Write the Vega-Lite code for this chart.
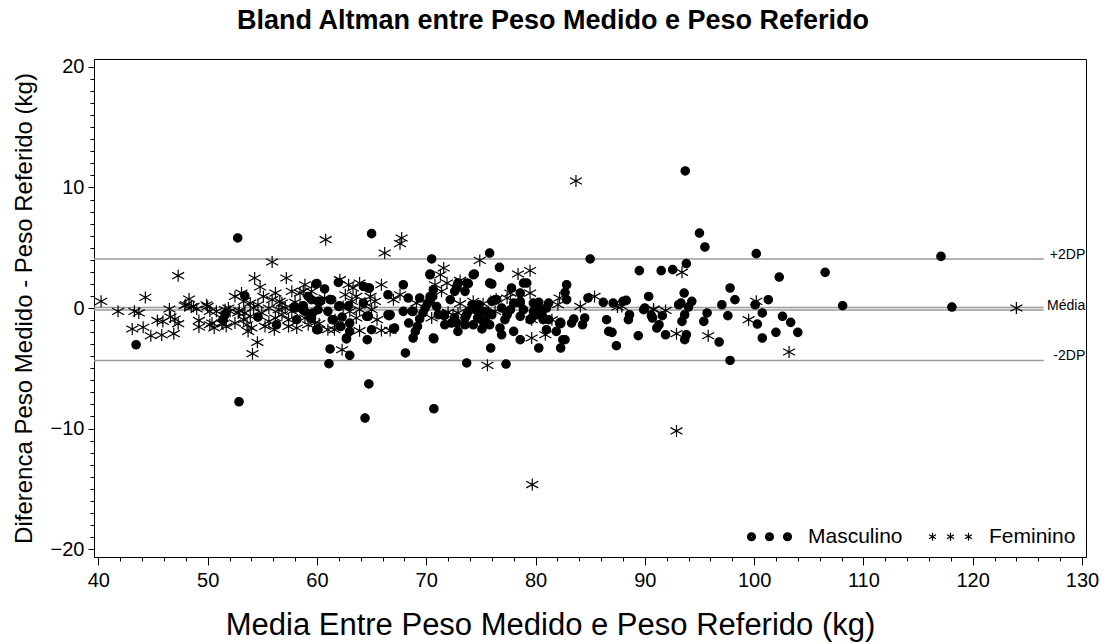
{
"$schema": "https://vega.github.io/schema/vega-lite/v6.json",
"width": 992, "height": 498,
"autosize": {"type": "none"},
"padding": {"left": 94, "top": 59, "right": 20, "bottom": 87},
"background": "white",
"config": {
  "font": "Liberation Sans",
  "view": {"stroke": "black", "strokeWidth": 1},
  "axis": {"domainColor": "black", "tickColor": "black", "labelColor": "black", "titleColor": "black", "grid": false, "labelFlush": false, "labelOverlap": false, "titleFontWeight": "normal", "labelFont": "Liberation Sans", "titleFont": "Liberation Sans"}
},
"title": {"text": "Bland Altman entre Peso Medido e Peso Referido", "fontSize": 27, "fontWeight": "bold", "font": "Liberation Sans", "color": "black", "anchor": "middle", "frame": "group", "dx": -37, "offset": 22},
"datasets": {
"linhas": [
{"linha": "+2DP", "valor": 4.07, "rotulo": "+2DP"},
{"linha": "Zero", "valor": 0.05, "rotulo": ""},
{"linha": "Média", "valor": -0.16, "rotulo": "Média"},
{"linha": "-2DP", "valor": -4.35, "rotulo": "-2DP"}
],
"pontos": [
{"media":43.45,"dif":-3.05,"sexo":"Masculino"},{"media":51.4,"dif":-0.97,"sexo":"Masculino"},{"media":51.6,"dif":-0.56,"sexo":"Masculino"},{"media":52.75,"dif":5.81,"sexo":"Masculino"},{"media":53.4,"dif":1.02,"sexo":"Masculino"},{"media":54.6,"dif":-0.75,"sexo":"Masculino"},{"media":56.3,"dif":-1.39,"sexo":"Masculino"},{"media":58.15,"dif":-0.97,"sexo":"Masculino"},{"media":58.0,"dif":0,"sexo":"Masculino"},{"media":58.9,"dif":-0.28,"sexo":"Masculino"},{"media":59.4,"dif":-0.83,"sexo":"Masculino"},{"media":59.5,"dif":0.69,"sexo":"Masculino"},{"media":59.9,"dif":1.99,"sexo":"Masculino"},{"media":59.98,"dif":-1.8,"sexo":"Masculino"},{"media":60.3,"dif":0.55,"sexo":"Masculino"},{"media":60.7,"dif":1.58,"sexo":"Masculino"},{"media":61.0,"dif":-0.28,"sexo":"Masculino"},{"media":61.35,"dif":0.69,"sexo":"Masculino"},{"media":61.4,"dif":-0.97,"sexo":"Masculino"},{"media":62.1,"dif":-1.53,"sexo":"Masculino"},{"media":62.0,"dif":0.13,"sexo":"Masculino"},{"media":61.96,"dif":2.12,"sexo":"Masculino"},{"media":61.2,"dif":-3.4,"sexo":"Masculino"},{"media":61.1,"dif":-4.62,"sexo":"Masculino"},{"media":62.7,"dif":-2.57,"sexo":"Masculino"},{"media":63.0,"dif":-1.94,"sexo":"Masculino"},{"media":63.0,"dif":-3.93,"sexo":"Masculino"},{"media":62.9,"dif":0.19,"sexo":"Masculino"},{"media":58.7,"dif":-0.14,"sexo":"Masculino"},{"media":59.6,"dif":-0.41,"sexo":"Masculino"},{"media":60.1,"dif":-0.14,"sexo":"Masculino"},{"media":62.3,"dif":-0.75,"sexo":"Masculino"},{"media":63.0,"dif":-1.25,"sexo":"Masculino"},
{"media":57.9,"dif":0.08,"sexo":"Masculino"},{"media":58.75,"dif":0.19,"sexo":"Masculino"},{"media":59.2,"dif":0.96,"sexo":"Masculino"},{"media":59.5,"dif":-0.83,"sexo":"Masculino"},{"media":60.0,"dif":2.02,"sexo":"Masculino"},{"media":60.1,"dif":0.55,"sexo":"Masculino"},{"media":61.2,"dif":0.69,"sexo":"Masculino"},{"media":61.5,"dif":-0.97,"sexo":"Masculino"},{"media":60.1,"dif":-1.8,"sexo":"Masculino"},{"media":62.05,"dif":0.19,"sexo":"Masculino"},{"media":62.2,"dif":-1.53,"sexo":"Masculino"},{"media":62.7,"dif":-2.49,"sexo":"Masculino"},{"media":64.7,"dif":-0.69,"sexo":"Masculino"},{"media":64.8,"dif":1.66,"sexo":"Masculino"},{"media":66.5,"dif":-0.56,"sexo":"Masculino"},
{"media":52.87,"dif":-7.78,"sexo":"Masculino"},{"media":64.4,"dif":-9.13,"sexo":"Masculino"},{"media":64.75,"dif":-6.3,"sexo":"Masculino"},{"media":70.7,"dif":-8.36,"sexo":"Masculino"},{"media":93.7,"dif":11.37,"sexo":"Masculino"},
{"media":65.0,"dif":6.17,"sexo":"Masculino"},{"media":70.5,"dif":4.07,"sexo":"Masculino"},{"media":75.8,"dif":4.56,"sexo":"Masculino"},{"media":85.0,"dif":4.07,"sexo":"Masculino"},{"media":76.7,"dif":3.37,"sexo":"Masculino"},{"media":70.35,"dif":2.82,"sexo":"Masculino"},{"media":74.4,"dif":2.82,"sexo":"Masculino"},{"media":76.0,"dif":1.99,"sexo":"Masculino"},{"media":78.9,"dif":2.07,"sexo":"Masculino"},{"media":67.9,"dif":1.93,"sexo":"Masculino"},{"media":77.8,"dif":1.66,"sexo":"Masculino"},{"media":82.85,"dif":1.93,"sexo":"Masculino"},{"media":82.7,"dif":1.29,"sexo":"Masculino"},{"media":82.85,"dif":0.69,"sexo":"Masculino"},{"media":73.85,"dif":2.02,"sexo":"Masculino"},{"media":73.55,"dif":1.38,"sexo":"Masculino"},{"media":72.8,"dif":1.79,"sexo":"Masculino"},{"media":72.6,"dif":1.38,"sexo":"Masculino"},{"media":66.5,"dif":1.1,"sexo":"Masculino"},{"media":68.35,"dif":0.83,"sexo":"Masculino"},{"media":69.4,"dif":0.83,"sexo":"Masculino"},{"media":67.9,"dif":-0.28,"sexo":"Masculino"},{"media":68.7,"dif":-0.28,"sexo":"Masculino"},{"media":70.35,"dif":0.96,"sexo":"Masculino"},
{"media":68.8,"dif":-2.49,"sexo":"Masculino"},{"media":69.0,"dif":-1.94,"sexo":"Masculino"},{"media":69.2,"dif":-1.53,"sexo":"Masculino"},{"media":69.4,"dif":-0.91,"sexo":"Masculino"},{"media":69.7,"dif":-0.41,"sexo":"Masculino"},{"media":69.9,"dif":0,"sexo":"Masculino"},{"media":70.1,"dif":0.36,"sexo":"Masculino"},{"media":70.35,"dif":0.63,"sexo":"Masculino"},{"media":70.6,"dif":0.96,"sexo":"Masculino"},
{"media":71.65,"dif":-0.64,"sexo":"Masculino"},{"media":72.2,"dif":0.69,"sexo":"Masculino"},{"media":72.3,"dif":-1.25,"sexo":"Masculino"},{"media":72.8,"dif":-1.25,"sexo":"Masculino"},{"media":72.9,"dif":-1.94,"sexo":"Masculino"},{"media":73.55,"dif":-0.83,"sexo":"Masculino"},{"media":73.85,"dif":-0.28,"sexo":"Masculino"},{"media":74.2,"dif":0.27,"sexo":"Masculino"},{"media":74.3,"dif":-1.39,"sexo":"Masculino"},{"media":74.7,"dif":-0.83,"sexo":"Masculino"},{"media":75.0,"dif":-0.28,"sexo":"Masculino"},{"media":75.1,"dif":-1.74,"sexo":"Masculino"},{"media":75.4,"dif":-0.97,"sexo":"Masculino"},{"media":75.5,"dif":-0.28,"sexo":"Masculino"},{"media":75.8,"dif":-1.39,"sexo":"Masculino"},{"media":76.0,"dif":0.55,"sexo":"Masculino"},{"media":76.45,"dif":0.69,"sexo":"Masculino"},{"media":76.9,"dif":0,"sexo":"Masculino"},{"media":77.2,"dif":-0.97,"sexo":"Masculino"},{"media":76.9,"dif":-2.22,"sexo":"Masculino"},{"media":75.9,"dif":-3.32,"sexo":"Masculino"},{"media":78.0,"dif":-1.94,"sexo":"Masculino"},{"media":78.6,"dif":-2.63,"sexo":"Masculino"},{"media":77.4,"dif":-0.47,"sexo":"Masculino"},{"media":77.7,"dif":-0.14,"sexo":"Masculino"},{"media":78.0,"dif":0.41,"sexo":"Masculino"},{"media":78.6,"dif":0.55,"sexo":"Masculino"},{"media":78.6,"dif":-0.69,"sexo":"Masculino"},{"media":78.9,"dif":-0.14,"sexo":"Masculino"},{"media":79.5,"dif":-0.97,"sexo":"Masculino"},{"media":79.8,"dif":-0.28,"sexo":"Masculino"},{"media":80.0,"dif":0.27,"sexo":"Masculino"},{"media":80.3,"dif":0.47,"sexo":"Masculino"},{"media":80.3,"dif":-3.32,"sexo":"Masculino"},{"media":80.6,"dif":-0.56,"sexo":"Masculino"},{"media":80.7,"dif":-0.97,"sexo":"Masculino"},{"media":81.0,"dif":0,"sexo":"Masculino"},{"media":81.2,"dif":0.41,"sexo":"Masculino"},{"media":81.0,"dif":-1.8,"sexo":"Masculino"},{"media":81.9,"dif":-1.94,"sexo":"Masculino"},{"media":82.3,"dif":-1.3,"sexo":"Masculino"},{"media":82.7,"dif":-2.63,"sexo":"Masculino"},{"media":82.3,"dif":-3.32,"sexo":"Masculino"},{"media":83.3,"dif":-1.25,"sexo":"Masculino"},{"media":83.5,"dif":-0.91,"sexo":"Masculino"},{"media":84.5,"dif":-0.83,"sexo":"Masculino"},{"media":84.8,"dif":0.83,"sexo":"Masculino"},{"media":86.2,"dif":0.47,"sexo":"Masculino"},{"media":86.5,"dif":-0.97,"sexo":"Masculino"},{"media":86.7,"dif":-1.94,"sexo":"Masculino"},{"media":73.7,"dif":-4.56,"sexo":"Masculino"},{"media":77.3,"dif":-4.65,"sexo":"Masculino"},{"media":68.1,"dif":-3.73,"sexo":"Masculino"},{"media":70.7,"dif":-2.55,"sexo":"Masculino"},{"media":64.6,"dif":-2.63,"sexo":"Masculino"},{"media":65.0,"dif":-1.8,"sexo":"Masculino"},{"media":67.0,"dif":-1.74,"sexo":"Masculino"},{"media":66.6,"dif":-0.64,"sexo":"Masculino"},{"media":64.55,"dif":-0.69,"sexo":"Masculino"},{"media":64.7,"dif":1.66,"sexo":"Masculino"},{"media":64.25,"dif":1.79,"sexo":"Masculino"},{"media":64.25,"dif":0.41,"sexo":"Masculino"},
{"media":66.7,"dif":-0.56,"sexo":"Masculino"},{"media":67.1,"dif":-1.66,"sexo":"Masculino"},{"media":68.4,"dif":-1.25,"sexo":"Masculino"},{"media":68.8,"dif":-0.28,"sexo":"Masculino"},{"media":70.65,"dif":-2.49,"sexo":"Masculino"},{"media":70.35,"dif":2.76,"sexo":"Masculino"},{"media":70.65,"dif":1.52,"sexo":"Masculino"},{"media":70.95,"dif":0.13,"sexo":"Masculino"},{"media":71.1,"dif":-0.56,"sexo":"Masculino"},{"media":71.6,"dif":-0.56,"sexo":"Masculino"},{"media":71.7,"dif":-1.39,"sexo":"Masculino"},{"media":72.6,"dif":-0.83,"sexo":"Masculino"},{"media":72.8,"dif":1.66,"sexo":"Masculino"},{"media":72.9,"dif":2.07,"sexo":"Masculino"},{"media":73.7,"dif":2.07,"sexo":"Masculino"},{"media":73.7,"dif":-0.56,"sexo":"Masculino"},{"media":73.55,"dif":-1.39,"sexo":"Masculino"},{"media":74.3,"dif":2.76,"sexo":"Masculino"},{"media":74.5,"dif":-0.14,"sexo":"Masculino"},{"media":74.8,"dif":0.27,"sexo":"Masculino"},{"media":74.8,"dif":-0.83,"sexo":"Masculino"},{"media":75.2,"dif":-1.11,"sexo":"Masculino"},{"media":75.8,"dif":2.07,"sexo":"Masculino"},{"media":76.0,"dif":-0.56,"sexo":"Masculino"},{"media":76.3,"dif":0.69,"sexo":"Masculino"},{"media":76.75,"dif":-1.66,"sexo":"Masculino"},{"media":77.4,"dif":-0.56,"sexo":"Masculino"},{"media":78.6,"dif":1.24,"sexo":"Masculino"},{"media":78.6,"dif":0.41,"sexo":"Masculino"},{"media":79.2,"dif":2.07,"sexo":"Masculino"},{"media":79.8,"dif":0.41,"sexo":"Masculino"},{"media":80.1,"dif":-0.56,"sexo":"Masculino"},{"media":79.65,"dif":-0.83,"sexo":"Masculino"},{"media":80.4,"dif":-0.14,"sexo":"Masculino"},{"media":82.2,"dif":-1.25,"sexo":"Masculino"},{"media":82.5,"dif":-2.63,"sexo":"Masculino"},
{"media":95.0,"dif":6.22,"sexo":"Masculino"},{"media":95.5,"dif":5.06,"sexo":"Masculino"},{"media":100.2,"dif":4.51,"sexo":"Masculino"},{"media":93.8,"dif":3.68,"sexo":"Masculino"},{"media":89.5,"dif":3.1,"sexo":"Masculino"},{"media":91.5,"dif":3.1,"sexo":"Masculino"},{"media":92.55,"dif":3.18,"sexo":"Masculino"},{"media":102.3,"dif":2.57,"sexo":"Masculino"},{"media":106.5,"dif":2.96,"sexo":"Masculino"},{"media":90.35,"dif":0.96,"sexo":"Masculino"},{"media":93.6,"dif":1.24,"sexo":"Masculino"},{"media":97.8,"dif":1.66,"sexo":"Masculino"},{"media":98.25,"dif":0.69,"sexo":"Masculino"},{"media":101.3,"dif":0.69,"sexo":"Masculino"},{"media":87.1,"dif":0.41,"sexo":"Masculino"},{"media":88.0,"dif":0.55,"sexo":"Masculino"},{"media":90.0,"dif":0,"sexo":"Masculino"},{"media":93.3,"dif":0.41,"sexo":"Masculino"},{"media":94.3,"dif":0.55,"sexo":"Masculino"},{"media":94.0,"dif":0.08,"sexo":"Masculino"},{"media":97.05,"dif":0.27,"sexo":"Masculino"},{"media":100.1,"dif":0.27,"sexo":"Masculino"},{"media":108.1,"dif":0.19,"sexo":"Masculino"},{"media":88.6,"dif":-0.56,"sexo":"Masculino"},{"media":88.5,"dif":-0.97,"sexo":"Masculino"},{"media":90.6,"dif":-0.64,"sexo":"Masculino"},{"media":91.6,"dif":-0.64,"sexo":"Masculino"},{"media":93.65,"dif":-0.56,"sexo":"Masculino"},{"media":93.4,"dif":-1.11,"sexo":"Masculino"},{"media":95.7,"dif":-0.41,"sexo":"Masculino"},{"media":95.4,"dif":-1.11,"sexo":"Masculino"},{"media":97.6,"dif":-0.64,"sexo":"Masculino"},{"media":100.75,"dif":-0.41,"sexo":"Masculino"},{"media":100.3,"dif":-1.33,"sexo":"Masculino"},{"media":102.6,"dif":-0.69,"sexo":"Masculino"},{"media":103.35,"dif":-1.19,"sexo":"Masculino"},{"media":104.0,"dif":-2.02,"sexo":"Masculino"},{"media":102.0,"dif":-2.02,"sexo":"Masculino"},{"media":100.75,"dif":-2.49,"sexo":"Masculino"},{"media":87.0,"dif":-2.02,"sexo":"Masculino"},{"media":87.4,"dif":-3.13,"sexo":"Masculino"},{"media":89.4,"dif":-2.3,"sexo":"Masculino"},{"media":91.3,"dif":-1.39,"sexo":"Masculino"},{"media":91.1,"dif":-1.66,"sexo":"Masculino"},{"media":91.9,"dif":-2.22,"sexo":"Masculino"},{"media":93.8,"dif":-2.22,"sexo":"Masculino"},{"media":93.65,"dif":-2.63,"sexo":"Masculino"},{"media":96.8,"dif":-2.82,"sexo":"Masculino"},{"media":97.8,"dif":-4.35,"sexo":"Masculino"},{"media":89.9,"dif":-0.14,"sexo":"Masculino"},{"media":90.7,"dif":-0.83,"sexo":"Masculino"},{"media":117.1,"dif":4.28,"sexo":"Masculino"},{"media":118.1,"dif":0.08,"sexo":"Masculino"},{"media":88.3,"dif":0.63,"sexo":"Masculino"},{"media":84.3,"dif":-1.39,"sexo":"Masculino"},{"media":82.3,"dif":-1.19,"sexo":"Masculino"},{"media":81.2,"dif":-0.97,"sexo":"Masculino"},{"media":93.1,"dif":0.27,"sexo":"Masculino"},
{"media":40.25,"dif":0.55,"sexo":"Feminino"},{"media":41.8,"dif":-0.28,"sexo":"Feminino"},{"media":43.3,"dif":-0.28,"sexo":"Feminino"},{"media":43.7,"dif":-0.41,"sexo":"Feminino"},{"media":44.3,"dif":0.88,"sexo":"Feminino"},{"media":43.1,"dif":-1.74,"sexo":"Feminino"},{"media":44.1,"dif":-1.6,"sexo":"Feminino"},{"media":44.8,"dif":-2.3,"sexo":"Feminino"},{"media":45.8,"dif":-2.24,"sexo":"Feminino"},{"media":46.9,"dif":-2.13,"sexo":"Feminino"},{"media":45.4,"dif":-1.03,"sexo":"Feminino"},{"media":45.9,"dif":-1.11,"sexo":"Feminino"},{"media":46.6,"dif":-0.75,"sexo":"Feminino"},{"media":46.5,"dif":-0.08,"sexo":"Feminino"},{"media":47.0,"dif":-0.91,"sexo":"Feminino"},{"media":47.3,"dif":-1.3,"sexo":"Feminino"},{"media":47.3,"dif":2.68,"sexo":"Feminino"},{"media":47.9,"dif":0.19,"sexo":"Feminino"},{"media":48.3,"dif":0.75,"sexo":"Feminino"},{"media":48.5,"dif":0.08,"sexo":"Feminino"},{"media":49.0,"dif":-0.08,"sexo":"Feminino"},{"media":49.2,"dif":-1.03,"sexo":"Feminino"},{"media":49.2,"dif":-1.58,"sexo":"Feminino"},{"media":50.0,"dif":0.13,"sexo":"Feminino"},{"media":50.2,"dif":-1.39,"sexo":"Feminino"},{"media":50.6,"dif":-1.66,"sexo":"Feminino"},{"media":50.8,"dif":-0.28,"sexo":"Feminino"},{"media":51.3,"dif":-1.25,"sexo":"Feminino"},{"media":51.7,"dif":-1.53,"sexo":"Feminino"},{"media":51.9,"dif":0,"sexo":"Feminino"},{"media":52.5,"dif":0.96,"sexo":"Feminino"},{"media":53.1,"dif":1.24,"sexo":"Feminino"},{"media":52.9,"dif":-0.22,"sexo":"Feminino"},{"media":53.3,"dif":-0.97,"sexo":"Feminino"},{"media":53.6,"dif":-1.39,"sexo":"Feminino"},{"media":53.7,"dif":-1.94,"sexo":"Feminino"},{"media":54.0,"dif":-1.66,"sexo":"Feminino"},{"media":53.9,"dif":0.41,"sexo":"Feminino"},{"media":54.3,"dif":2.49,"sexo":"Feminino"},{"media":54.55,"dif":-2.85,"sexo":"Feminino"},{"media":54.1,"dif":-3.79,"sexo":"Feminino"},{"media":54.8,"dif":1.74,"sexo":"Feminino"},{"media":55.1,"dif":0.96,"sexo":"Feminino"},{"media":55.25,"dif":-1.53,"sexo":"Feminino"},{"media":55.6,"dif":0,"sexo":"Feminino"},{"media":55.9,"dif":3.82,"sexo":"Feminino"},{"media":56.2,"dif":1.24,"sexo":"Feminino"},{"media":56.1,"dif":-1.8,"sexo":"Feminino"},{"media":56.5,"dif":-0.14,"sexo":"Feminino"},{"media":56.8,"dif":0.41,"sexo":"Feminino"},{"media":57.2,"dif":2.49,"sexo":"Feminino"},{"media":57.4,"dif":-0.97,"sexo":"Feminino"},{"media":57.7,"dif":1.38,"sexo":"Feminino"},{"media":58.45,"dif":0.13,"sexo":"Feminino"},{"media":58.9,"dif":1.93,"sexo":"Feminino"},{"media":58.75,"dif":1.38,"sexo":"Feminino"},{"media":59.2,"dif":-1.39,"sexo":"Feminino"},{"media":60.2,"dif":-1.3,"sexo":"Feminino"},{"media":61.6,"dif":-1.8,"sexo":"Feminino"},{"media":62.1,"dif":2.35,"sexo":"Feminino"},{"media":62.9,"dif":1.93,"sexo":"Feminino"},{"media":62.3,"dif":-3.46,"sexo":"Feminino"},{"media":60.8,"dif":5.67,"sexo":"Feminino"},{"media":67.75,"dif":5.81,"sexo":"Feminino"},{"media":67.6,"dif":5.34,"sexo":"Feminino"},{"media":66.2,"dif":4.56,"sexo":"Feminino"},{"media":74.9,"dif":3.95,"sexo":"Feminino"},{"media":71.6,"dif":3.32,"sexo":"Feminino"},{"media":71.3,"dif":2.76,"sexo":"Feminino"},{"media":78.4,"dif":2.82,"sexo":"Feminino"},{"media":79.5,"dif":3.1,"sexo":"Feminino"},{"media":73.1,"dif":2.29,"sexo":"Feminino"},{"media":71.9,"dif":2.07,"sexo":"Feminino"},{"media":70.8,"dif":1.93,"sexo":"Feminino"},{"media":65.9,"dif":1.93,"sexo":"Feminino"},{"media":67.6,"dif":1.1,"sexo":"Feminino"},{"media":67.0,"dif":0.69,"sexo":"Feminino"},{"media":69.1,"dif":0.41,"sexo":"Feminino"},{"media":82.2,"dif":0.83,"sexo":"Feminino"},{"media":79.5,"dif":1.24,"sexo":"Feminino"},{"media":79.65,"dif":-0.97,"sexo":"Feminino"},{"media":79.65,"dif":-2.49,"sexo":"Feminino"},{"media":81.5,"dif":-0.97,"sexo":"Feminino"},{"media":80.9,"dif":-2.22,"sexo":"Feminino"},{"media":84.1,"dif":0.13,"sexo":"Feminino"},{"media":85.4,"dif":0.96,"sexo":"Feminino"},{"media":75.6,"dif":-4.76,"sexo":"Feminino"},{"media":63.9,"dif":-1.88,"sexo":"Feminino"},{"media":65.9,"dif":-1.86,"sexo":"Feminino"},{"media":66.7,"dif":-1.86,"sexo":"Feminino"},{"media":65.5,"dif":-0.97,"sexo":"Feminino"},{"media":63.6,"dif":-0.83,"sexo":"Feminino"},{"media":63.9,"dif":2.07,"sexo":"Feminino"},{"media":63.3,"dif":1.66,"sexo":"Feminino"},{"media":63.6,"dif":0.96,"sexo":"Feminino"},{"media":64.4,"dif":0.41,"sexo":"Feminino"},{"media":64.9,"dif":0.96,"sexo":"Feminino"},{"media":65.3,"dif":0.55,"sexo":"Feminino"},{"media":65.0,"dif":-0.14,"sexo":"Feminino"},{"media":63.9,"dif":-0.14,"sexo":"Feminino"},{"media":70.5,"dif":-0.83,"sexo":"Feminino"},{"media":72.0,"dif":-0.36,"sexo":"Feminino"},{"media":72.45,"dif":-0.56,"sexo":"Feminino"},{"media":71.4,"dif":1.38,"sexo":"Feminino"},{"media":73.1,"dif":0.36,"sexo":"Feminino"},{"media":74.3,"dif":0.55,"sexo":"Feminino"},{"media":75.2,"dif":0.36,"sexo":"Feminino"},{"media":76.4,"dif":0.75,"sexo":"Feminino"},{"media":76.3,"dif":-0.28,"sexo":"Feminino"},{"media":77.4,"dif":0.83,"sexo":"Feminino"},{"media":77.7,"dif":1.24,"sexo":"Feminino"},{"media":72.9,"dif":-0.41,"sexo":"Feminino"},{"media":87.5,"dif":0.08,"sexo":"Feminino"},{"media":90.8,"dif":-0.14,"sexo":"Feminino"},{"media":91.9,"dif":-0.2,"sexo":"Feminino"},{"media":93.4,"dif":2.96,"sexo":"Feminino"},{"media":100.2,"dif":0.55,"sexo":"Feminino"},{"media":99.5,"dif":-0.97,"sexo":"Feminino"},{"media":103.2,"dif":-3.65,"sexo":"Feminino"},{"media":92.9,"dif":-2.13,"sexo":"Feminino"},{"media":95.8,"dif":-2.3,"sexo":"Feminino"},{"media":124.0,"dif":0.0,"sexo":"Feminino"},{"media":83.7,"dif":10.54,"sexo":"Feminino"},{"media":92.9,"dif":-10.2,"sexo":"Feminino"},{"media":79.7,"dif":-14.65,"sexo":"Feminino"},{"media":58.0,"dif":0.47,"sexo":"Feminino"},{"media":58.45,"dif":1.24,"sexo":"Feminino"},{"media":59.5,"dif":1.38,"sexo":"Feminino"},{"media":60.7,"dif":0.83,"sexo":"Feminino"},{"media":61.65,"dif":-0.97,"sexo":"Feminino"},{"media":61.0,"dif":-1.8,"sexo":"Feminino"},{"media":62.6,"dif":1.1,"sexo":"Feminino"},{"media":63.2,"dif":0.55,"sexo":"Feminino"},{"media":63.0,"dif":-0.28,"sexo":"Feminino"},{"media":62.4,"dif":0.13,"sexo":"Feminino"},{"media":58.9,"dif":-0.83,"sexo":"Feminino"},{"media":59.8,"dif":-1.25,"sexo":"Feminino"},{"media":54.2,"dif":0,"sexo":"Feminino"},{"media":54.6,"dif":0.27,"sexo":"Feminino"},{"media":54.95,"dif":-0.41,"sexo":"Feminino"},{"media":55.6,"dif":-1.11,"sexo":"Feminino"},{"media":55.9,"dif":0.69,"sexo":"Feminino"},{"media":56.6,"dif":0.55,"sexo":"Feminino"},{"media":56.8,"dif":-0.56,"sexo":"Feminino"},{"media":57.1,"dif":0,"sexo":"Feminino"},{"media":57.7,"dif":-0.28,"sexo":"Feminino"},{"media":53.9,"dif":-0.69,"sexo":"Feminino"},{"media":53.4,"dif":-0.41,"sexo":"Feminino"},{"media":53.3,"dif":0.55,"sexo":"Feminino"},{"media":56.2,"dif":-0.83,"sexo":"Feminino"},{"media":57.4,"dif":-1.53,"sexo":"Feminino"},{"media":58.15,"dif":-1.66,"sexo":"Feminino"},{"media":52.8,"dif":-0.41,"sexo":"Feminino"},{"media":52.5,"dif":-1.25,"sexo":"Feminino"},{"media":51.3,"dif":-0.83,"sexo":"Feminino"},{"media":51.4,"dif":-1.33,"sexo":"Feminino"},{"media":51.6,"dif":-0.14,"sexo":"Feminino"},{"media":52.05,"dif":-0.28,"sexo":"Feminino"},{"media":50.4,"dif":-1.25,"sexo":"Feminino"},{"media":50.2,"dif":-0.28,"sexo":"Feminino"},{"media":49.9,"dif":0.27,"sexo":"Feminino"},{"media":48.7,"dif":0.13,"sexo":"Feminino"},{"media":48.0,"dif":0.27,"sexo":"Feminino"},{"media":87.9,"dif":0.13,"sexo":"Feminino"},{"media":90.8,"dif":-0.08,"sexo":"Feminino"},{"media":82.05,"dif":0.27,"sexo":"Feminino"}
]
},
"resolve": {"axis": {"x": "independent", "y": "independent"}, "scale": {"shape": "independent"}, "legend": {"shape": "independent"}},
"layer": [
{
  "data": {"name": "linhas"},
  "mark": {"type": "rule", "color": "#9a9a9a", "strokeWidth": 1.5},
  "encoding": {
    "x": {"datum": 39.6, "type": "quantitative", "scale": {"domain": [39.6, 130.37], "nice": false, "zero": false},
      "axis": {"orient": "bottom", "values": [42,44,46,48,52,54,56,58,62,64,66,68,72,74,76,78,82,84,86,88,92,94,96,98,102,104,106,108,112,114,116,118,122,124,126,128], "labels": false, "domain": false, "tickSize": 4, "title": null}},
    "x2": {"datum": 126.5},
    "y": {"field": "valor", "type": "quantitative", "scale": {"domain": [-20.66, 20.66], "nice": false, "zero": false},
      "axis": {"orient": "left", "values": [-19,-18,-17,-16,-15,-14,-13,-12,-11,-9,-8,-7,-6,-5,-4,-3,-2,-1,1,2,3,4,5,6,7,8,9,11,12,13,14,15,16,17,18,19], "labels": false, "domain": false, "tickSize": 4, "title": null}}
  }
},
{
  "data": {"name": "linhas"},
  "mark": {"type": "text", "align": "right", "baseline": "middle", "dy": -4, "fontSize": 14, "font": "Liberation Sans", "color": "black"},
  "encoding": {
    "x": {"datum": 130.3, "type": "quantitative", "axis": null},
    "y": {"field": "valor", "type": "quantitative", "axis": null},
    "text": {"field": "rotulo"}
  }
},
{
  "data": {"name": "pontos"},
  "mark": {"type": "point", "fill": "black", "stroke": "black", "strokeWidth": 1.2, "size": 144, "opacity": 1},
  "encoding": {
    "x": {"field": "media", "type": "quantitative",
      "axis": {"orient": "bottom", "values": [40,50,60,70,80,90,100,110,120,130], "tickSize": 8, "labelFontSize": 20, "labelPadding": 5, "title": "Media Entre Peso Medido e Peso Referido (kg)", "titleFontSize": 31, "titleX": 456, "titleY": 77, "titleBaseline": "alphabetic"}},
    "y": {"field": "dif", "type": "quantitative",
      "axis": {"orient": "left", "values": [-20,-10,0,10,20], "tickSize": 6, "labelFontSize": 20, "labelPadding": 4, "title": "Diferenca Peso Medido - Peso Referido (kg)", "titleFontSize": 24, "titleX": -63, "titleBaseline": "alphabetic"}},
    "shape": {"field": "sexo", "type": "nominal", "legend": null,
      "scale": {"domain": ["Masculino", "Feminino"], "range": ["M-0.7,0A0.7,0.7,0,1,1,0.7,0A0.7,0.7,0,1,1,-0.7,0Z", "M0,-1L0,1M-1,-0.55L1,0.55M-1,0.55L1,-0.55"]}}
  }
},
{
  "data": {"name": "pontos"},
  "mark": {"type": "point", "filled": false, "stroke": "black", "strokeWidth": 1.2, "size": 64, "opacity": 0},
  "encoding": {
    "x": {"field": "media", "type": "quantitative", "axis": null},
    "y": {"field": "dif", "type": "quantitative", "axis": null},
    "shape": {"field": "sexo", "type": "nominal",
      "scale": {"domain": ["Masculino", "Feminino"], "range": ["M-5.5,0A1,1,0,1,1,-3.5,0A1,1,0,1,1,-5.5,0ZM-5.25,0A0.75,0.75,0,1,1,-3.75,0A0.75,0.75,0,1,1,-5.25,0ZM-5,0A0.5,0.5,0,1,1,-4,0A0.5,0.5,0,1,1,-5,0ZM-4.75,0A0.25,0.25,0,1,1,-4.25,0A0.25,0.25,0,1,1,-4.75,0ZM-1,0A1,1,0,1,1,1,0A1,1,0,1,1,-1,0ZM-0.75,0A0.75,0.75,0,1,1,0.75,0A0.75,0.75,0,1,1,-0.75,0ZM-0.5,0A0.5,0.5,0,1,1,0.5,0A0.5,0.5,0,1,1,-0.5,0ZM-0.25,0A0.25,0.25,0,1,1,0.25,0A0.25,0.25,0,1,1,-0.25,0ZM3.5,0A1,1,0,1,1,5.5,0A1,1,0,1,1,3.5,0ZM3.75,0A0.75,0.75,0,1,1,5.25,0A0.75,0.75,0,1,1,3.75,0ZM4,0A0.5,0.5,0,1,1,5,0A0.5,0.5,0,1,1,4,0ZM4.25,0A0.25,0.25,0,1,1,4.75,0A0.25,0.25,0,1,1,4.25,0Z", "M-4.5,-1L-4.5,1M-5.37,-0.5L-3.63,0.5M-5.37,0.5L-3.63,-0.5M0,-1L0,1M-0.87,-0.5L0.87,0.5M-0.87,0.5L0.87,-0.5M4.5,-1L4.5,1M3.63,-0.5L5.37,0.5M3.63,0.5L5.37,-0.5"]},
      "legend": {"orient": "none", "legendX": 665, "legendY": 467, "direction": "horizontal", "title": null, "labelFontSize": 21, "labelFont": "Liberation Sans", "labelColor": "black", "labelOffset": 28, "columnPadding": 23, "symbolSize": 64, "symbolOpacity": 1, "symbolFillColor": "transparent", "symbolStrokeColor": "black", "symbolStrokeWidth": 1.2, "padding": 0}}
  }
}
]
}
